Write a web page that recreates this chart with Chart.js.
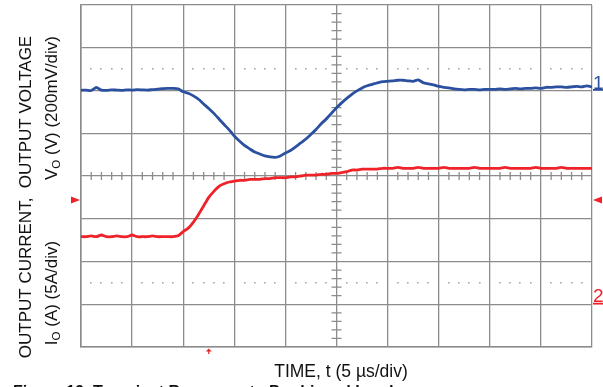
<!DOCTYPE html>
<html>
<head>
<meta charset="utf-8">
<script src="https://cdn.jsdelivr.net/npm/chart.js@4.4.1/dist/chart.umd.min.js"></script>
<style>
  html, body { margin: 0; padding: 0; background: #fff; }
  #wrap { position: relative; width: 603px; height: 387px; }
</style>
</head>
<body>
<div id="wrap"><canvas id="scope"></canvas></div>
<script>
// time base: 5 us/div, 10 divisions
const timeUs = [
  0, 0.5, 1, 1.5, 2, 2.5, 3, 3.5, 4, 4.5, 5, 5.5, 6, 6.5, 7, 7.5, 8, 8.5, 9, 9.5,
  10, 10.5, 11, 11.5, 12, 12.5, 13, 13.5, 14, 14.5, 15, 15.5, 16, 16.5, 17, 17.5, 18, 18.5, 19, 19.5,
  20, 20.5, 21, 21.5, 22, 22.5, 23, 23.5, 24, 24.5, 25, 25.5, 26, 26.5, 27, 27.5, 28, 28.5, 29, 29.5,
  30, 30.5, 31, 31.5, 32, 32.5, 33, 33.5, 34, 34.5, 35, 35.5, 36, 36.5, 37, 37.5, 38, 38.5, 39, 39.5,
  40, 40.5, 41, 41.5, 42, 42.5, 43, 43.5, 44, 44.5, 45, 45.5, 46, 46.5, 47, 47.5, 48, 48.5, 49, 49.5, 50
];

// channel 1: output voltage deviation, mV (200 mV/div), 0 = marker "1"
const voltageMv = [
  1, 2, 0, 14, 2, 1, 3, 2, 1, 3, 2, 4, 3, 2, 4, 6, 9, 10, 10, 8,
  -6, -13, -25, -41, -63, -84, -107, -133, -159, -184, -213, -236, -257, -273, -288, -297, -306, -311, -313, -306,
  -292, -281, -264, -245, -227, -205, -182, -156, -133, -107, -81, -58, -37, -18, -2, 12, 22, 29, 36, 41,
  43, 45, 48, 48, 45, 43, 50, 36, 31, 26, 19, 15, 12, 8, 5, 3, 5, 5, 3, 5,
  5, 5, 8, 5, 8, 10, 8, 10, 10, 12, 10, 15, 15, 17, 17, 15, 17, 19, 17, 22, 17
];

// channel 2: output current, A (5 A/div), 0 = marker "2"
const currentA = [
  7.9, 7.9, 8.0, 7.9, 8.1, 7.9, 7.9, 8.0, 7.9, 7.9, 8.1, 7.9, 7.9, 7.9, 8.0, 7.9, 7.9, 7.9, 7.9, 8.0,
  8.5, 8.9, 9.6, 10.5, 11.5, 12.5, 13.2, 13.8, 14.1, 14.3, 14.4, 14.5, 14.5, 14.6, 14.6, 14.6, 14.7, 14.7, 14.8, 14.8,
  14.8, 14.9, 14.9, 15.0, 15.1, 15.1, 15.1, 15.2, 15.2, 15.3, 15.3, 15.4, 15.5, 15.7, 15.7, 15.8, 15.8, 15.8, 15.8, 15.9,
  15.9, 15.9, 16.0, 15.9, 15.9, 15.9, 16.0, 15.9, 15.9, 15.9, 15.9, 16.0, 15.9, 15.9, 15.9, 15.9, 15.9, 16.0, 15.9, 15.9,
  15.9, 15.9, 15.9, 16.0, 15.9, 15.9, 15.9, 15.9, 15.9, 16.0, 15.9, 15.9, 15.9, 15.9, 16.0, 15.9, 15.9, 15.9, 15.9, 15.9, 15.9
];

const dotLevelsMv = [100, -900];   // dotted reference rows
const triggerLevelA = 12.2;         // red side markers
const triggerTimeUs = 12.5;         // red arrow under the grid

const GRID = '#8c8c8c';
const BLUE = '#2c50a0';
const RED = '#ee2228';
const FONT = '"Liberation Sans", Arial, Helvetica, sans-serif';

function rotatedRuns(ctx, cx, cy, runs) {
  // runs: [text, sizePx, subscript?]
  let total = 0;
  runs.forEach(r => { ctx.font = `${r[1]}px ${FONT}`; total += ctx.measureText(r[0]).width; });
  ctx.save();
  ctx.translate(cx, cy);
  ctx.rotate(-Math.PI / 2);
  ctx.textBaseline = 'alphabetic';
  ctx.textAlign = 'left';
  let pos = -total / 2;
  runs.forEach(r => {
    ctx.font = `${r[1]}px ${FONT}`;
    ctx.fillText(r[0], pos, r[2] ? 9 : 6);
    pos += ctx.measureText(r[0]).width;
  });
  ctx.restore();
}

const scopeDecor = {
  id: 'scopeDecor',
  beforeDatasetsDraw(chart) {
    const { ctx, scales: { x, yV } } = chart;
    ctx.save();
    // dotted rows
    ctx.fillStyle = '#a8a8a8';
    dotLevelsMv.forEach(v => {
      const py = Math.round(yV.getPixelForValue(v));
      for (let t = 1; t < 50; t++) {
        if (t % 5 === 0) continue;
        const px = Math.round(x.getPixelForValue(t));
        ctx.fillRect(px - 1, py - 1, 1.6, 1.6);
      }
    });
    // center cross minor ticks
    ctx.strokeStyle = GRID;
    ctx.lineWidth = 1.3;
    ctx.beginPath();
    const cy = yV.getPixelForValue(-400);
    for (let t = 1; t < 50; t++) {
      if (t % 5 === 0) continue;
      const px = x.getPixelForValue(t);
      ctx.moveTo(px, cy - 4); ctx.lineTo(px, cy + 4);
    }
    const cx = x.getPixelForValue(25);
    for (let v = -1160; v < 400; v += 40) {
      if ((v + 1200) % 200 === 0) continue;
      const py = yV.getPixelForValue(v);
      ctx.moveTo(cx - 5, py); ctx.lineTo(cx + 5, py);
    }
    ctx.stroke();
    ctx.restore();
  },
  afterDraw(chart) {
    const { ctx, chartArea: a, scales: { x, yV, yI } } = chart;
    ctx.save();
    // channel markers on the right
    const y1 = yV.getPixelForValue(0);
    const y2 = yI.getPixelForValue(0);
    ctx.font = `19px ${FONT}`;
    ctx.textAlign = 'left';
    ctx.textBaseline = 'alphabetic';
    ctx.fillStyle = BLUE;
    ctx.fillText('1', a.right + 1, y1 - 2);
    ctx.fillRect(a.right + 1, y1 - 1.5, 11, 1.8);
    ctx.fillStyle = RED;
    ctx.fillText('2', a.right + 1, y2 - 2);
    ctx.fillRect(a.right + 1, y2 - 1.5, 11, 1.8);
    // trigger level triangles
    const ty = yI.getPixelForValue(triggerLevelA);
    ctx.beginPath();
    ctx.moveTo(a.left - 1, ty); ctx.lineTo(a.left - 10, ty - 3.5); ctx.lineTo(a.left - 10, ty + 3.5);
    ctx.closePath(); ctx.fill();
    ctx.beginPath();
    ctx.moveTo(a.right + 1, ty); ctx.lineTo(a.right + 10, ty - 3.5); ctx.lineTo(a.right + 10, ty + 3.5);
    ctx.closePath(); ctx.fill();
    // trigger time arrow
    const tx = x.getPixelForValue(triggerTimeUs);
    ctx.beginPath();
    ctx.moveTo(tx, a.bottom + 1.5); ctx.lineTo(tx - 3, a.bottom + 4.5); ctx.lineTo(tx + 3, a.bottom + 4.5);
    ctx.closePath(); ctx.fill();
    ctx.fillRect(tx - 0.6, a.bottom + 3, 1.2, 4);

    // axis titles
    ctx.fillStyle = '#111';
    rotatedRuns(ctx, 25, 197, [['OUTPUT CURRENT,  OUTPUT VOLTAGE', 17]]);
    rotatedRuns(ctx, 51, 108, [['V', 17], ['O', 11.5, true], [' (V) (200mV/div)', 17]]);
    rotatedRuns(ctx, 51, 293, [['I', 17], ['O', 11.5, true], [' (A) (5A/div)', 17]]);
    ctx.font = `17.5px ${FONT}`;
    ctx.textAlign = 'center';
    ctx.textBaseline = 'middle';
    ctx.fillText('TIME, t (5 \u00b5s/div)', 341, 372);
    ctx.font = `bold 16px ${FONT}`;
    ctx.textAlign = 'left';
    ctx.textBaseline = 'alphabetic';
    ctx.fillText('Figure 19. Transient Response to Pre-biased Load', 13, 397);
    ctx.restore();
  }
};

const points = (ys) => timeUs.map((t, i) => ({ x: t, y: ys[i] }));

new Chart(document.getElementById('scope'), {
  type: 'line',
  data: {
    datasets: [
      { label: 'VO', data: points(voltageMv), yAxisID: 'yV', borderColor: BLUE, borderWidth: 2.8, pointRadius: 0, tension: 0.2 },
      { label: 'IO', data: points(currentA), yAxisID: 'yI', borderColor: RED, borderWidth: 2.8, pointRadius: 0, tension: 0.2 }
    ]
  },
  options: {
    responsive: true,
    maintainAspectRatio: false,
    animation: false,
    layout: { padding: { left: 81, right: 11, top: 5, bottom: 40 } },
    plugins: { legend: { display: false }, tooltip: { enabled: false } },
    scales: {
      x: {
        type: 'linear', min: 0, max: 50,
        ticks: { display: false, stepSize: 5 },
        grid: { color: GRID, lineWidth: 1.3, drawTicks: false },
        border: { color: GRID, width: 1.6 }
      },
      yV: {
        position: 'left', min: -1200, max: 400,
        ticks: { display: false, stepSize: 200 },
        grid: { color: GRID, lineWidth: 1.3, drawTicks: false },
        border: { color: GRID, width: 1.6 }
      },
      yI: { position: 'right', min: -5, max: 35, display: false }
    }
  },
  plugins: [scopeDecor]
});
</script>
</body>
</html>
